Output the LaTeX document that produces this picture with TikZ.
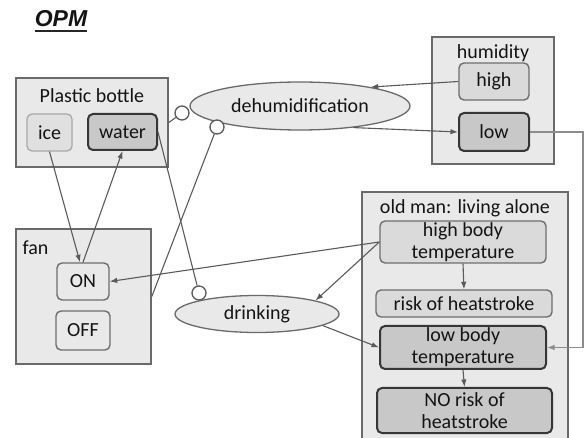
\documentclass[tikz,border=0pt]{standalone}
\usepackage{fontspec}
\setmainfont{Carlito}
\newfontfamily\titlefont{Liberation Sans}
\usetikzlibrary{shapes.geometric,arrows.meta,calc}

\definecolor{boxfill}{HTML}{E9E9E9}
\definecolor{boxline}{HTML}{6A6A6A}
\definecolor{lightfill}{HTML}{E0E0E0}
\definecolor{lightline}{HTML}{A8A8A8}
\definecolor{midfill}{HTML}{DADADA}
\definecolor{midline}{HTML}{6E6E6E}
\definecolor{darkfill}{HTML}{C8C8C8}
\definecolor{darkline}{HTML}{363636}
\definecolor{linkcol}{HTML}{5A5A5A}

\tikzset{
  every node/.style={font=\fontsize{20}{22}\selectfont, text=black!92},
  objbox/.style={rectangle, draw=boxline, fill=boxfill, line width=1.6pt, inner sep=0pt},
  lightstate/.style={rectangle, rounded corners=5pt, draw=lightline, fill=lightfill, line width=1.3pt, inner sep=0pt, align=center},
  midstate/.style={rectangle, rounded corners=5pt, draw=midline, fill=midfill, line width=1.4pt, inner sep=0pt, align=center},
  darkstate/.style={rectangle, rounded corners=5pt, draw=darkline, fill=darkfill, line width=2pt, inner sep=0pt, align=center},
  procell/.style={ellipse, draw=boxline, fill=boxfill, line width=1.3pt, inner sep=0pt},
  instr/.style={circle, draw=linkcol, fill=white, line width=1.3pt, minimum size=14pt, inner sep=0pt},
  link/.style={draw=linkcol, line width=1.1pt},
  arr/.style={link, -{Latex[length=7.5pt,width=5.5pt]}},
}

\begin{document}
\begin{tikzpicture}[x=1pt,y=-1pt]
\useasboundingbox (0,0) rectangle (584,438);
\clip (0,0) rectangle (584,438);

% heading
\node[font=\titlefont\bfseries\itshape\fontsize{23}{26}\selectfont, inner sep=0pt, anchor=base] (title) at (61,27) {OPM};
\draw[line width=1.8pt, black!85] ($(title.base west)+(0,4)$) -- ($(title.base east)+(0,4)$);

% plastic bottle
\node[objbox, minimum width=152pt, minimum height=89pt] (bottle) at (92,122.5) {};
\node (bottlelbl) at (92,96) {Plastic bottle};
\node[lightstate, minimum width=45pt, minimum height=37pt] (ice) at (49.5,132.5) {ice};
\node[darkstate, minimum width=69pt, minimum height=36pt] (water) at (122.5,132) {water};

% humidity
\node[objbox, minimum width=122pt, minimum height=127pt] (humid) at (493,100.5) {};
\node (humidlbl) at (493,53) {humidity};
\node[midstate, minimum width=70pt, minimum height=37pt] (high) at (494,81.5) {high};
\node[darkstate, minimum width=70pt, minimum height=38pt] (low) at (494,132) {low};

% fan
\node[objbox, minimum width=135pt, minimum height=135pt] (fan) at (83.5,296.5) {};
\node[anchor=west] (fanlbl) at (19,248) {fan};
\node[midstate, fill=boxfill, minimum width=52pt, minimum height=37pt] (on) at (83,281.5) {ON};
\node[midstate, fill=boxfill, minimum width=54pt, minimum height=39pt] (off) at (83,330.5) {OFF};

% old man
\node[objbox, minimum width=206pt, minimum height=268pt] (man) at (465,326) {};
\node (manlbl) at (465,208) {old man: living alone};
\node[midstate, minimum width=166pt, minimum height=42pt] (hbt) at (463,242) {high body\\temperature};
\node[midstate, minimum width=176pt, minimum height=27pt] (risk) at (464,303.5) {risk of heatstroke};
\node[darkstate, minimum width=166pt, minimum height=43pt] (lbt) at (463,347.5) {low body\\temperature};
\node[darkstate, minimum width=175pt, minimum height=45pt] (norisk) at (464.5,410.5) {NO risk of\\heatstroke};

% processes
\node[procell, minimum width=220pt, minimum height=48pt] (dehum) at (300,106) {dehumidification};
\node[procell, minimum width=164pt, minimum height=37pt] (drink) at (257,314) {drinking};

% instrument links
\node[instr] (c1) at (182,113) {};
\node[instr] (c2) at (217,127) {};
\node[instr] (c3) at (199,293) {};
\draw[link] (bottle.east) -- (c1);
\draw[link] (fan.east) -- (c2);
\draw[link] (water.east) -- (c3);

% state transitions
\draw[arr] (ice.south) -- ($(on.north)+(-3,0)$);
\draw[arr] (on.north) -- (water.south);
\draw[arr] (high.west) -- (dehum.15);
\draw[arr] (dehum.-22) -- (low.west);
\coordinate (loopA) at (583,132);
\coordinate (loopB) at (583,347.5);
\draw[arr, draw=black!45] (low.east) -- (loopA) -- (loopB) -- (lbt.east);
\draw[arr] (hbt.west) -- (on.east);
\draw[arr] (hbt.west) -- (drink.13);
\draw[arr] (drink.-10) -- (lbt.west);
\draw[arr] (hbt.south) -- (risk.north);
\draw[arr] (lbt.south) -- (norisk.north);
\end{tikzpicture}
\end{document}
